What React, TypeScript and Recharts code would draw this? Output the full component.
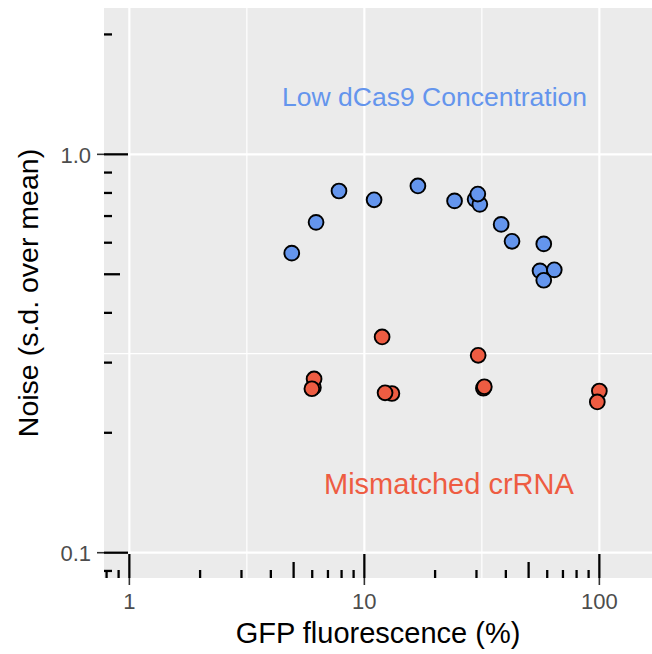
import {
  ScatterChart, Scatter, XAxis, YAxis, CartesianGrid, ReferenceLine, ReferenceDot,
} from 'recharts';

const FONT = '"Liberation Sans", Arial, Helvetica, sans-serif';
const BLUE = '#6495ED';
const RED = '#EE5C42';

// Low dCas9 concentration (GFP %, noise)
const lowGfp   = [4.91, 6.23, 7.80, 11.0, 16.9, 24.2, 29.6, 31.0, 30.4, 38.2, 42.5, 58.0, 55.9, 64.3, 58.0];
const lowNoise = [0.565, 0.675, 0.809, 0.769, 0.833, 0.764, 0.771, 0.749, 0.795, 0.667, 0.605, 0.596, 0.510, 0.513, 0.483];

// Mismatched crRNA
const mmGfp   = [11.9, 30.5, 6.07, 6.11, 5.98, 13.1, 12.25, 32.1, 32.4, 100, 98];
const mmNoise = [0.348, 0.313, 0.260, 0.273, 0.258, 0.251, 0.252, 0.2587, 0.261, 0.2546, 0.239];

// text annotations
const noteText  = ['Low dCas9 Concentration', 'Mismatched crRNA'];
const noteGfp   = [19.9, 22.9];
const noteNoise = [1.4, 0.149];
const noteColor = [BLUE, RED];
const noteSize  = [26.5, 29];

// axes
const xDomain = [0.78, 167.5];
const yDomain = [0.0864, 2.33];
const xMajor = [1, 10, 100];
const xMinor = [3.162, 31.62];
const yMajor = [0.1, 1];
const yMinor = [0.3162];
const xLogTicks = [0.8, 0.9, 1, 2, 3, 4, 5, 6, 7, 8, 9, 10, 20, 30, 40, 50, 60, 70, 80, 90, 100];
const yLogTicks = [0.09, 0.1, 0.2, 0.3, 0.4, 0.5, 0.6, 0.7, 0.8, 0.9, 1, 2];

const lowData = lowGfp.map((g, i) => ({ gfp: g, noise: lowNoise[i] }));
const mmData = mmGfp.map((g, i) => ({ gfp: g, noise: mmNoise[i] }));

function tickKind(v: number) {
  const lead = Math.round(v / Math.pow(10, Math.floor(Math.log10(v) + 1e-9)));
  if (lead === 1) return 'long';
  if (lead === 5) return 'mid';
  return 'short';
}

const tickLen = (k: string) => (k === 'long' ? 24 : k === 'mid' ? 16 : 8);

function XLogTick({ x, y, payload }: any) {
  const v = payload.value;
  const kind = tickKind(v);
  const showLabel = xMajor.includes(v);
  return (
    <g>
      <line x1={x} x2={x} y1={y} y2={y - tickLen(kind)} stroke="#000" strokeWidth={2.3} />
      {showLabel && <line x1={x} x2={x} y1={y} y2={y + 7} stroke="#333" strokeWidth={1.6} />}
      {showLabel && (
        <text x={x} y={y + 31} textAnchor="middle" fontSize={22} fill="#4D4D4D" fontFamily={FONT}>
          {String(v)}
        </text>
      )}
    </g>
  );
}

function YLogTick({ x, y, payload }: any) {
  const v = payload.value;
  const kind = tickKind(v);
  const showLabel = yMajor.includes(v);
  return (
    <g>
      <line x1={x} x2={x + tickLen(kind)} y1={y} y2={y} stroke="#000" strokeWidth={2.3} />
      {showLabel && <line x1={x - 7} x2={x} y1={y} y2={y} stroke="#333" strokeWidth={1.6} />}
      {showLabel && (
        <text x={x - 13} y={y + 8.5} textAnchor="end" fontSize={22} fill="#4D4D4D" fontFamily={FONT}>
          {v.toFixed(1)}
        </text>
      )}
    </g>
  );
}

const dot = (fill: string) => (p: any) => (
  <circle cx={p.cx} cy={p.cy} r={7.4} fill={fill} stroke="#000" strokeWidth={1.9} />
);

export default function App() {
  return (
    <div style={{ width: 652, height: 654, background: '#fff' }}>
      <style>{'body{margin:0}'}</style>
      <ScatterChart width={652} height={654} margin={{ top: 8, right: 0, bottom: 0, left: 0 }}>
        <CartesianGrid fill="#EBEBEB" stroke="none" horizontal={false} vertical={false} />
        {xMinor.map(v => <ReferenceLine key={'xm' + v} x={v} stroke="#fff" strokeWidth={1.2} />)}
        {yMinor.map(v => <ReferenceLine key={'ym' + v} y={v} stroke="#fff" strokeWidth={1.2} />)}
        {xMajor.map(v => <ReferenceLine key={'xM' + v} x={v} stroke="#fff" strokeWidth={2.2} />)}
        {yMajor.map(v => <ReferenceLine key={'yM' + v} y={v} stroke="#fff" strokeWidth={2.2} />)}
        <XAxis
          type="number" dataKey="gfp" scale="log" domain={xDomain} allowDataOverflow
          ticks={xLogTicks} interval={0} tick={<XLogTick />} tickLine={false} axisLine={false}
          tickSize={0} tickMargin={0} height={76}
          label={{ value: 'GFP fluorescence (%)', position: 'insideBottom', offset: 11, fill: '#000', fontSize: 29, fontFamily: FONT }}
        />
        <YAxis
          type="number" dataKey="noise" scale="log" domain={yDomain} allowDataOverflow
          ticks={yLogTicks} interval={0} tick={<YLogTick />} tickLine={false} axisLine={false}
          tickSize={0} tickMargin={0} width={104}
          label={{ value: 'Noise (s.d. over mean)', angle: -90, position: 'insideLeft', offset: 28, fill: '#000', fontSize: 28.5, fontFamily: FONT, style: { textAnchor: 'middle' } }}
        />
        <Scatter data={lowData} shape={dot(BLUE)} isAnimationActive={false} />
        <Scatter data={mmData} shape={dot(RED)} isAnimationActive={false} />
        {noteText.map((t, i) => (
          <ReferenceDot
            key={t} x={noteGfp[i]} y={noteNoise[i]} r={0}
            shape={(p: any) => (
              <text x={p.cx} y={p.cy} dy="0.355em" textAnchor="middle" fontSize={noteSize[i]} fill={noteColor[i]} fontFamily={FONT}>
                {t}
              </text>
            )}
          />
        ))}
      </ScatterChart>
    </div>
  );
}
